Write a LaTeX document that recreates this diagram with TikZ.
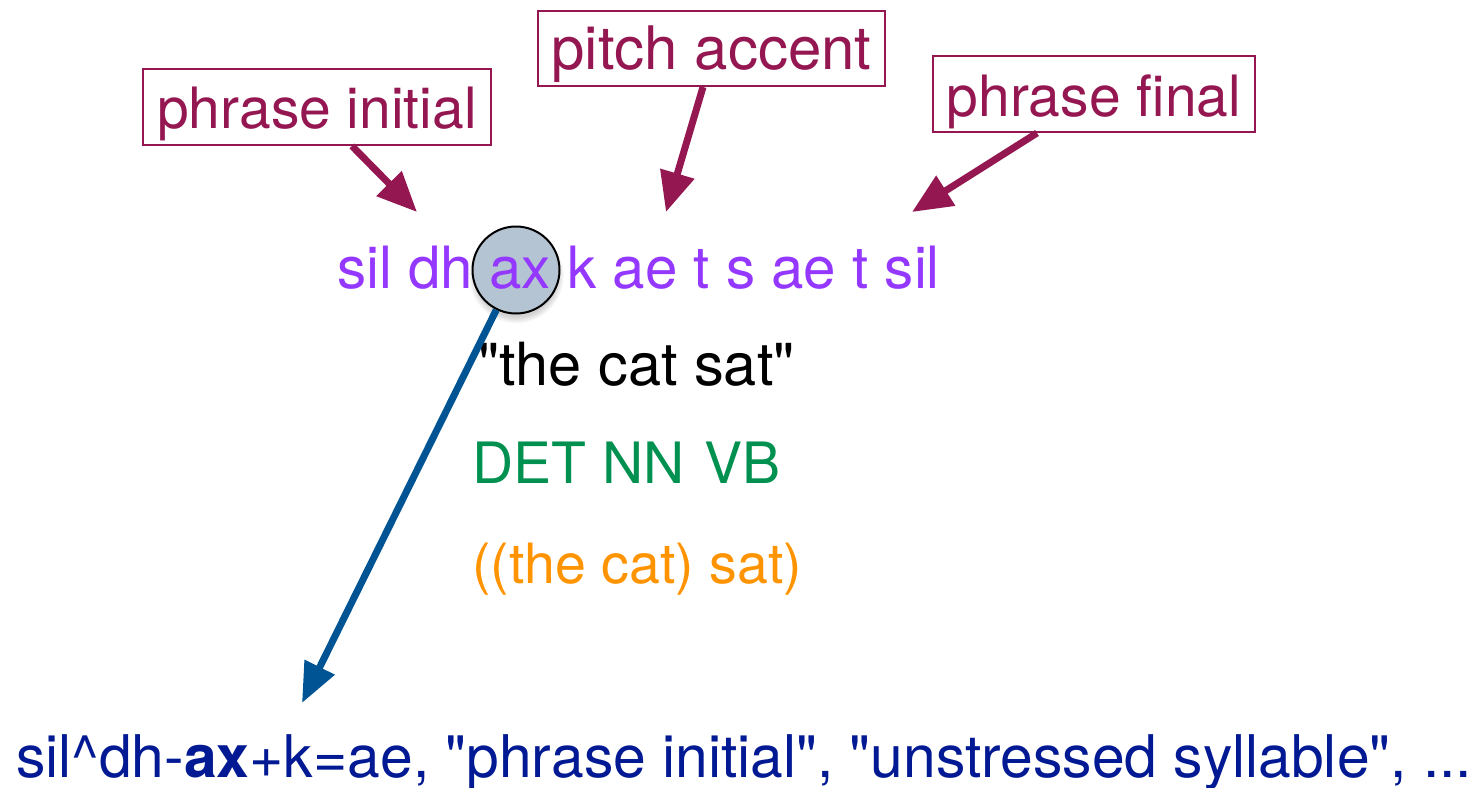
\documentclass[tikz,border=0pt]{standalone}
\usepackage{fontspec}
\setmainfont{TeX Gyre Heros}
\usetikzlibrary{arrows.meta,shadows,calc}
\definecolor{maroon}{HTML}{941751}
\definecolor{phon}{HTML}{9437FF}
\definecolor{posgreen}{HTML}{00904F}
\definecolor{synorange}{HTML}{FF9300}
\definecolor{arrowblue}{HTML}{005493}
\definecolor{navytext}{HTML}{011993}
\definecolor{lensfill}{HTML}{B5C4D3}
\newcommand{\fsz}[1]{\fontsize{#1}{#1}\selectfont}
\newcommand{\dq}{\textquotedbl}
\begin{document}
\begin{tikzpicture}[x=1pt,y=-1pt,
  big/.style={font=\fsz{57}, inner sep=0pt},
  labelbox/.style={big, draw=maroon, line width=2pt, text=maroon,
     inner xsep=0pt, inner ysep=0pt, text height=59pt, text depth=17pt},
  maroonarrow/.style={draw=maroon, line width=7pt,
     -{Triangle[length=40pt,width=34pt]}},
  bluearrow/.style={draw=arrowblue, line width=7pt,
     -{Triangle[length=40pt,width=32pt]}},
  lens/.style={circle, draw=black, line width=2pt, fill=lensfill,
     minimum size=87pt, inner sep=0pt,
     circular drop shadow={shadow xshift=0pt, shadow yshift=-5pt, opacity=0.35, shadow scale=1.1}}
]
\useasboundingbox (0,0) rectangle (1482,787);
% label boxes
\node[labelbox, minimum width=348pt] (pi) at (317,68) [anchor=north] {phrase initial};
\node[labelbox, minimum width=347pt, text height=58pt, font=\fsz{60}] (pa) at (711.5,10) [anchor=north] {pitch accent};
\node[labelbox, minimum width=322pt, text height=60pt, text depth=16pt] (pf) at (1094,55) [anchor=north] {phrase final};
% arrow tips
\coordinate (piTip) at (417,212);
\coordinate (paTip) at (666,212);
\coordinate (pfTip) at (912,212);
\draw[maroonarrow] ([xshift=35pt]pi.south) -- (piTip);
\draw[maroonarrow] ([xshift=-8.5pt]pa.south) -- (paTip);
\draw[maroonarrow] ([xshift=-57pt]pf.south) -- (pfTip);
% lens
\node[lens] (lens) at (516,270) {};
% phoneme string
\node[big, font=\fsz{58.3}, text=phon, anchor=base west] (phones) at (337,288) {sil dh ax k ae t s ae t sil};
% other lines
\node[big, font=\fsz{59.5}, text=black, anchor=base west] (words) at (478,385) {\dq the cat sat\dq};
\node[big, text=posgreen, anchor=base west] (pos) at (472,483) {DET NN\hspace{4pt} VB};
\node[big, font=\fsz{55.5}, text=synorange, anchor=base west] (syn) at (472,583) {((the cat) sat)};
% bottom
\node[big, font=\fsz{58.8}, text=navytext, anchor=base west] (ctx) at (16,777) {sil\textasciicircum dh-\textbf{ax}+k=ae, \dq phrase initial\dq, \dq unstressed syllable\dq, ...};
\coordinate (blueTip) at (302,703);
\draw[bluearrow] (lens) -- (blueTip);
\end{tikzpicture}
\end{document}
